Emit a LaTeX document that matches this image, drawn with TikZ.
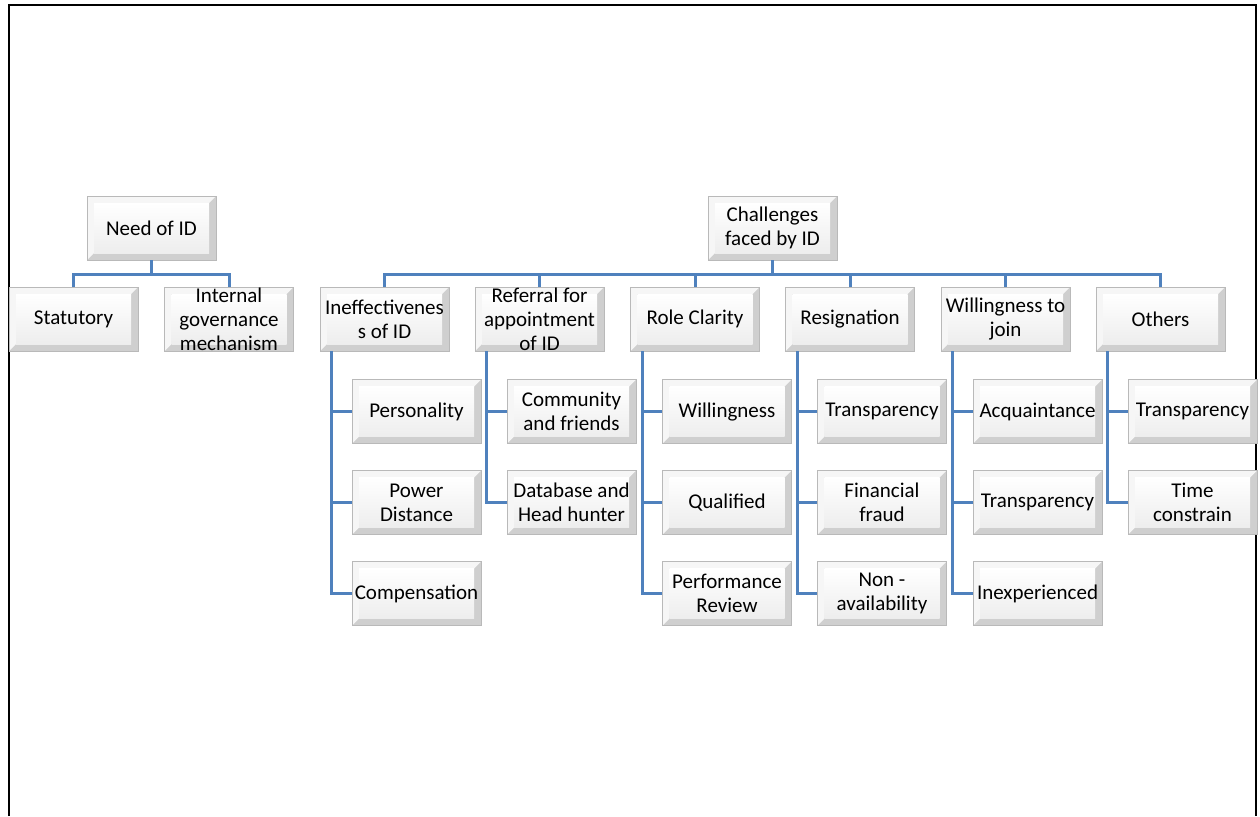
\documentclass[tikz,border=0pt]{standalone}
\usepackage{fontspec}
\setmainfont{Carlito}
\definecolor{linkblue}{RGB}{79,129,189}

\tikzset{
  bevelbox/.style={
    draw=gray!55, line width=0.6pt,
    minimum width=129pt, minimum height=64pt, inner sep=0pt,
    align=center, font=\fontsize{21}{24}\selectfont,
    path picture={
      \fill[gray!38] (path picture bounding box.south west) rectangle (path picture bounding box.north east);
      \fill[gray!7] (path picture bounding box.south west) -- (path picture bounding box.north west)
        -- (path picture bounding box.north east) -- ([shift={(-7pt,-7pt)}]path picture bounding box.north east)
        -- ([shift={(7pt,-7pt)}]path picture bounding box.north west) -- ([shift={(7pt,7pt)}]path picture bounding box.south west) -- cycle;
      \shade[top color=white, bottom color=gray!14] ([shift={(7pt,7pt)}]path picture bounding box.south west)
        rectangle ([shift={(-7pt,-7pt)}]path picture bounding box.north east);
    }},
  conn/.style={draw=linkblue, line width=3pt}
}

\begin{document}
\begin{tikzpicture}[x=1pt,y=-1pt]

\useasboundingbox (0,0) rectangle (1260,816);

% Page frame
\draw[line width=2pt] (9,816) -- (9,5) -- (1256,5) -- (1256,816);

% Left tree
\node[bevelbox] (need) at (151.5,228) {Need of ID};
\node[bevelbox] (stat) at (73.5,319) {Statutory};
\node[bevelbox] (intg) at (229,319) {Internal\\governance\\mechanism};
\foreach \n in {stat,intg}
  \draw[conn] (need.south) -- ++(0,14) -| (\n.north);

% Right tree
\node[bevelbox] (chal) at (772.5,228) {Challenges\\faced by ID};

\foreach \n/\x/\txt in {c1/384.5/{Ineffectivenes\\s of ID},
                        c2/539.5/{Referral for\\appointment\\of ID},
                        c3/695/{Role Clarity},
                        c4/850/{Resignation},
                        c5/1005.5/{Willingness to\\join},
                        c6/1160.5/{Others}} {
  \node[bevelbox] (\n) at (\x,319) {\txt};
  \draw[conn] (chal.south) -- ++(0,14) -| (\n.north);
}

% Sub items
\foreach \p/\i/\txt in {c1/1/Personality, c1/2/{Power\\Distance}, c1/3/Compensation,
                        c2/1/{Community\\and friends}, c2/2/{Database and\\Head hunter},
                        c3/1/Willingness, c3/2/Qualified, c3/3/{Performance\\Review},
                        c4/1/Transparency, c4/2/{Financial\\fraud}, c4/3/{Non -\\availability},
                        c5/1/Acquaintance, c5/2/Transparency, c5/3/Inexperienced,
                        c6/1/Transparency, c6/2/{Time\\constrain}} {
  \node[bevelbox, anchor=north west] (\p-\i) at ([xshift=32pt, yshift={-28-(\i-1)*91}]\p.south west) {\txt};
  \draw[conn] ([xshift=12pt]\p.south west) |- (\p-\i.west);
}

\end{tikzpicture}
\end{document}
